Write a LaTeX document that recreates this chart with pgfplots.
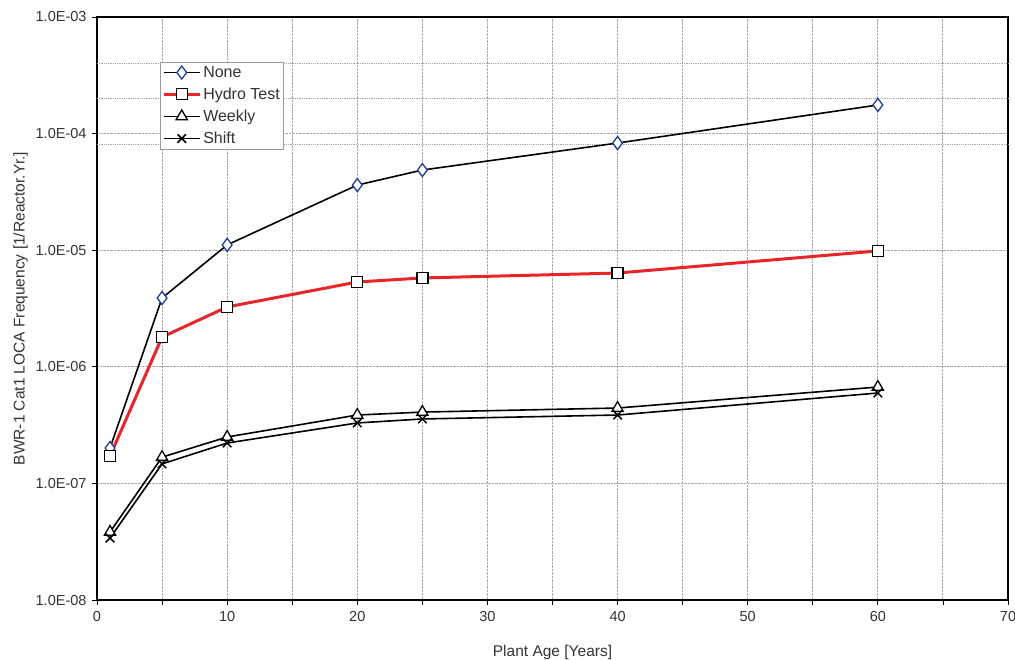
\documentclass[border=0pt]{standalone}
\usepackage{pgfplots}
\pgfplotsset{compat=1.18}
\usepackage{fontspec}
\setmainfont{Liberation Sans}
\definecolor{txt}{HTML}{333333}
\definecolor{nonecol}{HTML}{1E3C9A}
\definecolor{hydrored}{HTML}{E8262A}
\begin{document}
\begin{tikzpicture}
\begin{axis}[
  at={(0,0)}, anchor=south west,
  scale only axis, width=911pt, height=583pt,
  xmin=0, xmax=70, ymode=log, ymin=1e-8, ymax=1e-3,
  xtick={0,10,...,70}, minor xtick={5,15,...,65},
  ytick={1e-8,1e-7,1e-6,1e-5,1e-4,1e-3},
  yticklabels={1.0E-08,1.0E-07,1.0E-06,1.0E-05,1.0E-04,1.0E-03},
  extra y ticks={8e-5,2e-4,4e-4}, extra y tick labels={},
  extra y tick style={ymajorgrids=true, major tick length=0pt, grid style={gray!45, densely dotted, line width=0.8pt}},
  yminorticks=false, yminorgrids=false,
  xmajorgrids=true, xminorgrids=true, ymajorgrids=true,
  major grid style={gray!70, densely dotted, line width=1pt},
  minor grid style={gray!70, densely dotted, line width=1pt},
  tick pos=left,
  tick align=outside, major tick length=5pt, minor tick length=5pt,
  tick style={black, line width=0.8pt},
  axis line style={black, line width=1.6pt},
  /pgf/number format/assume math mode=true,
  ticklabel style={font=\fontsize{14.5}{16}\selectfont, text=txt},
  xticklabel style={yshift=-3pt},
  yticklabel style={xshift=-2pt},
  xlabel={Plant Age [Years]},
  ylabel={BWR-1 Cat1 LOCA Frequency [1/Reactor.Yr.]},
  label style={font=\fontsize{15.5}{17}\selectfont, text=txt},
  xlabel style={yshift=-17pt},
  ylabel style={yshift=-4pt},
  legend style={at={(0.069,0.923)}, anchor=north west, draw=gray!80, line width=0.8pt,
    font=\fontsize{16}{18}\selectfont, text=txt, row sep=5pt, inner sep=2pt,
    legend cell align=left},
  legend image code/.code={\draw[#1] (0pt,0pt) -- (36pt,0pt); \path[#1] plot coordinates {(18pt,0pt)};},
]
\addplot[black, line width=1.6pt, mark=diamond*, mark size=6.5pt, mark options={draw=nonecol, fill=white, line width=1.3pt, solid}]
 coordinates {(1,2.01e-7) (5,3.89e-6) (10,1.11e-5) (20,3.62e-5) (25,4.87e-5) (40,8.3e-5) (60,1.76e-4)};
\addlegendentry{None}
\addplot[hydrored, line width=3pt, mark=square*, mark size=5.5pt, mark options={draw=black, fill=white, line width=1.3pt, solid}]
 coordinates {(1,1.72e-7) (5,1.80e-6) (10,3.26e-6) (20,5.34e-6) (25,5.78e-6) (40,6.37e-6) (60,9.85e-6)};
\addlegendentry{Hydro Test}
\addplot[black, line width=1.6pt, mark=triangle*, mark size=6.5pt, mark options={draw=black, fill=white, line width=1.3pt, solid}]
 coordinates {(1,3.83e-8) (5,1.68e-7) (10,2.50e-7) (20,3.86e-7) (25,4.09e-7) (40,4.43e-7) (60,6.71e-7)};
\addlegendentry{Weekly}
\addplot[black, line width=1.6pt, mark=x, mark size=6pt, mark options={draw=black, line width=1.5pt, solid}]
 coordinates {(1,3.40e-8) (5,1.47e-7) (10,2.22e-7) (20,3.30e-7) (25,3.57e-7) (40,3.86e-7) (60,5.96e-7)};
\addlegendentry{Shift}
\end{axis}
\pgfresetboundingbox
\path (-97pt,-60pt) rectangle (918pt,600pt);
\end{tikzpicture}
\end{document}
